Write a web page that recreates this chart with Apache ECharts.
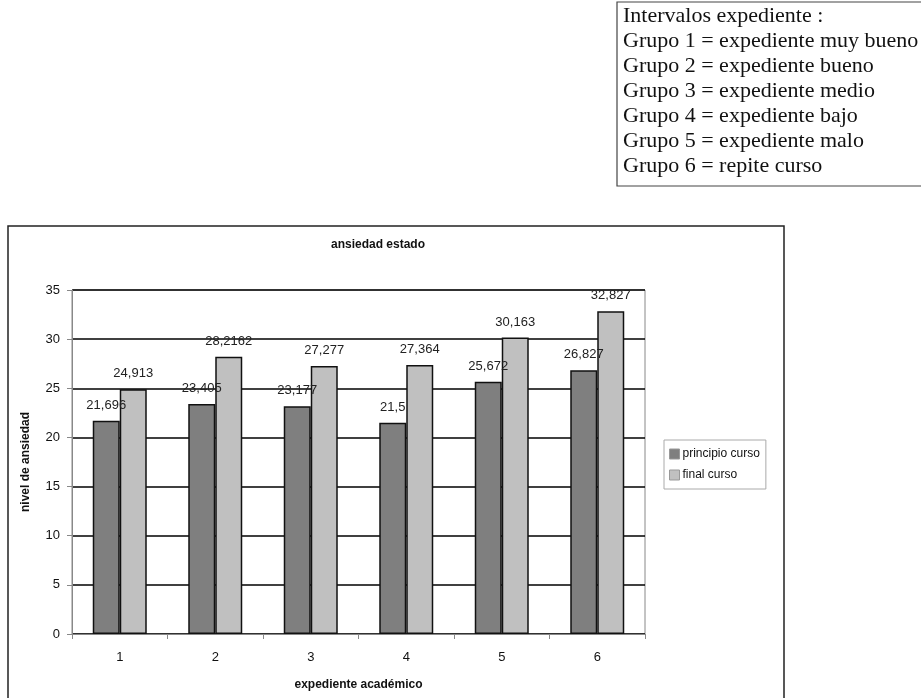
<!DOCTYPE html>
<html>
<head>
<meta charset="utf-8">
<script src="https://cdn.jsdelivr.net/npm/echarts@6/dist/echarts.min.js"></script>
<style>
  html, body { margin: 0; padding: 0; background: #fff; }
  #chart { width: 921px; height: 698px; }
</style>
</head>
<body>
<div id="chart"></div>
<script>
// datos del gráfico
var grupos = ['1', '2', '3', '4', '5', '6'];
var principioCurso = [21.696, 23.405, 23.177, 21.5, 25.672, 26.827];
var finalCurso = [24.913, 28.2162, 27.277, 27.364, 30.163, 32.827];
var notaLineas = [
  'Intervalos expediente :',
  'Grupo 1 = expediente muy bueno',
  'Grupo 2 = expediente bueno',
  'Grupo 3 = expediente medio',
  'Grupo 4 = expediente bajo',
  'Grupo 5 = expediente malo',
  'Grupo 6 = repite curso'
];

var fuente = 'Liberation Sans, Arial, sans-serif';

function etiqueta(p) {
  return String(p.value).replace('.', ',');
}

var chart = echarts.init(document.getElementById('chart'), null, { renderer: 'canvas' });

var option = {
  backgroundColor: '#fff',
  animation: false,
  title: {
    text: 'ansiedad estado',
    left: 373,
    textAlign: 'center',
    top: 234,
    textStyle: { fontFamily: fuente, fontSize: 12, fontWeight: 'bold', color: '#111' }
  },
  legend: {
    orient: 'vertical',
    left: 664,
    top: 440,
    padding: [8, 6, 8, 5],
    itemWidth: 10,
    itemHeight: 10,
    itemGap: 9,
    borderColor: '#aaa',
    borderWidth: 1,
    icon: 'rect',
    itemStyle: { borderColor: '#999', borderWidth: 1 },
    textStyle: { fontFamily: fuente, fontSize: 12, color: '#111', padding: [0, 0, 0, -2] },
    data: ['principio curso', 'final curso']
  },
  grid: {
    left: 72,
    top: 290,
    right: 276,
    bottom: 64,
    show: true,
    borderColor: '#888',
    borderWidth: 1
  },
  xAxis: {
    type: 'category',
    data: grupos,
    name: 'expediente académico',
    nameLocation: 'middle',
    nameGap: 45,
    nameTextStyle: { fontFamily: fuente, fontSize: 12, fontWeight: 'bold', color: '#111' },
    axisLine: { lineStyle: { color: '#888', width: 1 } },
    axisTick: { show: true, length: 5, lineStyle: { color: '#888' } },
    axisLabel: { fontFamily: fuente, fontSize: 13, color: '#111', margin: 17 }
  },
  yAxis: {
    type: 'value',
    min: 0,
    max: 35,
    interval: 5,
    name: 'nivel de ansiedad',
    nameLocation: 'middle',
    nameGap: 40,
    nameTextStyle: { fontFamily: fuente, fontSize: 12, fontWeight: 'bold', color: '#111' },
    axisLine: { show: true, lineStyle: { color: '#888', width: 1 } },
    axisTick: { show: true, length: 5, lineStyle: { color: '#888' } },
    axisLabel: { fontFamily: fuente, fontSize: 13, color: '#111', margin: 12 },
    splitLine: { show: true, lineStyle: { color: '#000', width: 1.5 } }
  },
  series: [
    {
      name: 'principio curso',
      type: 'bar',
      data: principioCurso,
      barWidth: 27,
      barGap: '0%',
      itemStyle: { color: '#7f7f7f', borderColor: '#111', borderWidth: 1.5 },
      label: {
        show: true,
        position: 'top',
        distance: 9,
        formatter: etiqueta,
        fontFamily: fuente,
        fontSize: 13,
        color: '#222'
      }
    },
    {
      name: 'final curso',
      type: 'bar',
      data: finalCurso,
      barWidth: 27,
      barGap: '0%',
      itemStyle: { color: '#c0c0c0', borderColor: '#111', borderWidth: 1.5 },
      label: {
        show: true,
        position: 'top',
        distance: 9,
        formatter: etiqueta,
        fontFamily: fuente,
        fontSize: 13,
        color: '#222'
      }
    }
  ],
  graphic: [
    {
      type: 'rect',
      silent: true,
      z: -1,
      shape: { x: 8, y: 226, width: 776, height: 490 },
      style: { fill: null, stroke: '#222', lineWidth: 1.5 }
    },
    {
      type: 'rect',
      silent: true,
      shape: { x: 617, y: 2, width: 310, height: 184 },
      style: { fill: '#fff', stroke: '#444', lineWidth: 1.2 }
    },
    {
      type: 'text',
      silent: true,
      left: 623,
      top: 4,
      style: {
        text: notaLineas.join('\n'),
        font: '22px "Liberation Serif", "Times New Roman", serif',
        lineHeight: 25,
        fill: '#111'
      }
    }
  ]
};

chart.setOption(option);
</script>
</body>
</html>
